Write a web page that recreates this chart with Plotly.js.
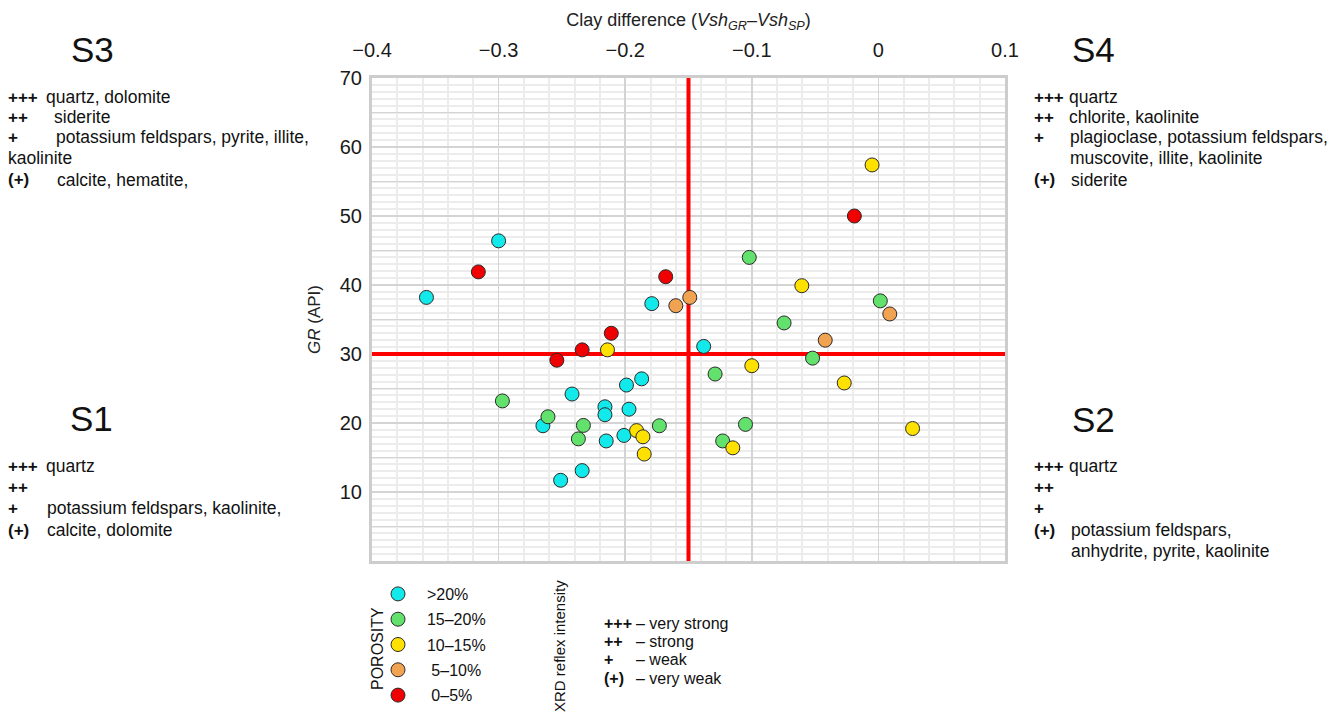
<!DOCTYPE html>
<html><head><meta charset="utf-8">
<script src="https://cdn.plot.ly/plotly-3.0.1.min.js"></script>
<style>html,body{margin:0;padding:0;background:#fff;overflow:hidden}#chart{width:1344px;height:718px}</style>
</head><body><div id="chart"></div>
<script>
// ---------- DATA ----------
const porosityClasses = [">20%", "15–20%", "10–15%", "\u00a05–10%", "\u00a00–5%"];

const cyanX = [-0.357, -0.300, -0.179, -0.138, -0.199, -0.187, -0.242, -0.216, -0.216, -0.197, -0.265, -0.215, -0.201, -0.234, -0.251];
const cyanY = [38.2, 46.4, 37.3, 31.1, 25.5, 26.4, 24.2, 22.35, 21.2, 22.0, 19.6, 17.4, 18.2, 13.1, 11.7];

const greenX = [-0.297, -0.261, -0.233, -0.237, -0.173, -0.102, 0.0015, -0.0745, -0.052, -0.129, -0.105, -0.123];
const greenY = [23.2, 20.9, 19.65, 17.7, 19.6, 44.0, 37.7, 34.5, 29.4, 27.1, 19.8, 17.4];

const yellowX = [-0.214, -0.191, -0.186, -0.185, -0.005, -0.0605, -0.100, -0.027, 0.027, -0.115];
const yellowY = [30.6, 18.9, 18.0, 15.5, 57.4, 39.9, 28.3, 25.8, 19.2, 16.4];

const orangeX = [-0.160, -0.149, 0.009, -0.042];
const orangeY = [37.0, 38.2, 35.8, 32.0];

const redX = [-0.316, -0.168, -0.211, -0.234, -0.254, -0.019];
const redY = [41.9, 41.2, 33.0, 30.6, 29.1, 50.0];

const thresholdX = -0.15;
const thresholdY = 30;

const xRange = [-0.4, 0.1];
const yRange = [0, 70];
const yTickVals = [0, 5, 10, 15, 20, 25, 30, 35, 40, 45, 50, 55, 60, 65, 70];
const yTickText = ["", "", "10", "", "20", "", "30", "", "40", "", "50", "", "60", "", "70"];

const s3Symbols = ["+++", "++", "+", "", "(+)"];
const s3Minerals = ["quartz, dolomite", "siderite", "potassium feldspars, pyrite, illite,", "kaolinite", "calcite, hematite,"];
const s4Symbols = ["+++", "++", "+", "", "(+)"];
const s4Minerals = ["quartz", "chlorite, kaolinite", "plagioclase, potassium feldspars,", "muscovite, illite, kaolinite", "siderite"];
const s1Symbols = ["+++", "++", "+", "(+)"];
const s1Minerals = ["quartz", "", "potassium feldspars, kaolinite,", "calcite, dolomite"];
const s2Symbols = ["+++", "++", "+", "(+)", ""];
const s2Minerals = ["quartz", "", "", "potassium feldspars,", "anhydrite, pyrite, kaolinite"];

const intensitySymbols = ["+++", "++", "+", "(+)"];
const intensityLabels = ["– very strong", "– strong", "– weak", "– very weak"];

// ---------- STYLE / LAYOUT ----------
const W = 1344, H = 718;
const M = {l: 372, r: 339, t: 78, b: 157, autoexpand: false};
const PW = W - M.l - M.r, PH = H - M.t - M.b;
const px = v => (v - M.l) / PW;
const py = v => 1 - (v - M.t) / PH;
const FONT = "Liberation Sans, Arial, Helvetica, sans-serif";
const colors = ["#12e9ea", "#62e26c", "#ffe100", "#f2a352", "#f00000"];
const PAD = "\u00a0\u00a0";

const series = [[cyanX, cyanY], [greenX, greenY], [yellowX, yellowY], [orangeX, orangeY], [redX, redY]];

const traces = [
  {x: [thresholdX, thresholdX], y: yRange, mode: "lines", line: {color: "#ff0000", width: 4},
   showlegend: false, hoverinfo: "skip", cliponaxis: false},
  {x: xRange, y: [thresholdY, thresholdY], mode: "lines", line: {color: "#ff0000", width: 4},
   showlegend: false, hoverinfo: "skip", cliponaxis: false}
];
series.forEach((s, i) => {
  traces.push({
    x: s[0], y: s[1], mode: "markers", type: "scatter", name: PAD + porosityClasses[i],
    legendgroup: "g" + i,
    marker: {size: 14, color: colors[i], line: {color: "#2a2a2a", width: 1}},
    cliponaxis: false
  });
});

const annotations = [];
function addText(text, x, y, size, opts) {
  annotations.push(Object.assign({
    text: text, xref: "paper", yref: "paper", x: px(x), y: py(y),
    xanchor: "left", yanchor: "middle", showarrow: false,
    font: {family: FONT, size: size, color: "#111"}
  }, opts || {}));
}
function addBlock(title, titleX, titleY, symbols, minerals, symX, textX, lineY) {
  addText(title, titleX, titleY, 35, {xanchor: "center"});
  symbols.forEach((s, i) => {
    if (s) addText("<b>" + s + "</b>", symX, lineY[i], 17);
    if (minerals[i]) addText(minerals[i], textX[i], lineY[i], 17.5);
  });
}
const topY = [97, 117, 137, 158, 180];
const botY = [466, 487, 508, 530, 551];
addBlock("S3", 92, 50, s3Symbols, s3Minerals, 6, [44, 52, 54, 6, 55], topY);
addBlock("S4", 1093, 50, s4Symbols, s4Minerals, 1032, [1067, 1067, 1068, 1068, 1069], topY);
addBlock("S1", 91, 418, s1Symbols, s1Minerals, 6, [44, 45, 45, 45], botY);
addBlock("S2", 1093, 419, s2Symbols, s2Minerals, 1032, [1067, 1067, 1067, 1069, 1069], botY);

const intY = [623, 641, 659, 678];
intensitySymbols.forEach((s, i) => {
  addText("<b>" + s + "</b>", 602, intY[i], 16);
  addText(intensityLabels[i], 634, intY[i], 16);
});
addText("POROSITY", 377, 649, 16, {xanchor: "center", textangle: -90});
addText("XRD reflex intensity", 559, 646, 15, {xanchor: "center", textangle: -90});

const layout = {
  width: W, height: H,
  margin: M,
  paper_bgcolor: "#ffffff", plot_bgcolor: "#ffffff",
  font: {family: FONT, color: "#111"},
  showlegend: true,
  legend: {x: px(378), y: py(577), xanchor: "left", yanchor: "top",
           font: {family: FONT, size: 16, color: "#111"}, bgcolor: "rgba(0,0,0,0)",
           traceorder: "grouped", tracegroupgap: 1.5, itemclick: false},
  xaxis: {
    range: xRange, side: "top", tick0: 0, dtick: 0.1, ticks: "", ticklabelstandoff: 10,
    tickfont: {family: FONT, size: 20, color: "#1a1a1a"},
    showgrid: true, gridcolor: "#d4d4d4", gridwidth: 1.5,
    minor: {tick0: 0, dtick: 0.02, showgrid: true, gridcolor: "#ececec", gridwidth: 2},
    zeroline: false, showline: true, mirror: true, linecolor: "#cdcdcd", linewidth: 3,
    automargin: false, fixedrange: true,
    title: {text: "Clay difference (<i>Vsh</i><sub><i>GR</i></sub>–<i>Vsh</i><sub><i>SP</i></sub>)",
            font: {family: FONT, size: 18, color: "#222"}, standoff: 8}
  },
  yaxis: {
    range: yRange, tickmode: "array", tickvals: yTickVals, ticktext: yTickText, ticks: "",
    ticklabelstandoff: 3,
    tickfont: {family: FONT, size: 20, color: "#1a1a1a"},
    showgrid: true, gridcolor: "#d4d4d4", gridwidth: 1.5,
    minor: {tick0: 0, dtick: 1, showgrid: true, gridcolor: "#ececec", gridwidth: 2},
    zeroline: false, showline: true, mirror: true, linecolor: "#cdcdcd", linewidth: 3,
    automargin: false, fixedrange: true,
    title: {text: "<i>GR</i> (API)", font: {family: FONT, size: 17, color: "#222"}, standoff: 15}
  },
  annotations: annotations
};

Plotly.newPlot("chart", traces, layout, {displayModeBar: false, staticPlot: true});
</script>
</body></html>
